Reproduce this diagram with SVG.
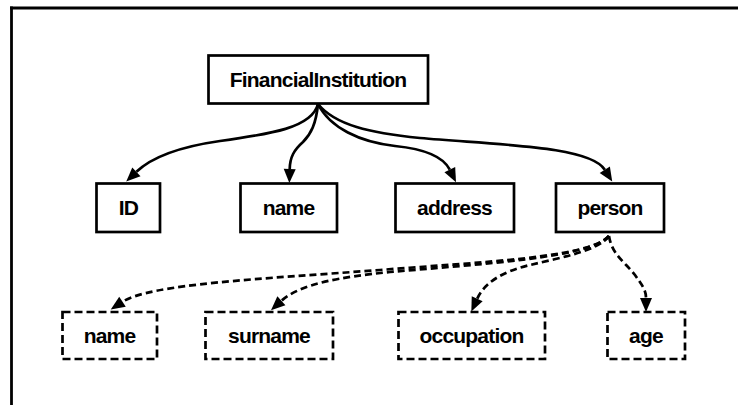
<svg xmlns="http://www.w3.org/2000/svg" width="738" height="405" viewBox="0 0 738 405">
  <style>
    .node rect { fill: #ffffff; stroke: #000000; stroke-width: 2.7; }
    .node.opt rect { stroke-dasharray: 8 4; }
    .node text { font-family: "Liberation Sans", Arial, sans-serif; font-weight: bold; font-size: 21px; letter-spacing: -0.8px; text-anchor: middle; fill: #000000; }
    .edge { fill: none; stroke: #000000; stroke-width: 2.7; marker-end: url(#head); }
    .edge.opt { stroke-dasharray: 7 4; }
    .frame { stroke: #000000; stroke-width: 2.8; fill: none; }
  </style>
  <defs>
    <marker id="head" markerUnits="userSpaceOnUse" markerWidth="14" markerHeight="12" refX="0" refY="6" orient="auto" overflow="visible">
      <path d="M0,0 L14,6 L0,12 z" fill="#000000"/>
    </marker>
  </defs>

  <rect width="738" height="405" fill="#ffffff"/>
  <!-- frame: top and left rules -->
  <line class="frame" x1="11.5" y1="6.6" x2="11.5" y2="405"/>
  <line class="frame" x1="10" y1="8" x2="738" y2="8"/>

  <g id="connectors">
    <!-- solid: FinancialInstitution to attributes -->
    <path class="edge" d="M318,104 C312,128 270,134 220,141 C178,147 152,157 136.4,171.8"/>
    <path class="edge" d="M318,104 C316,124 311,134 303,142 C294,150 290,157 289.7,169"/>
    <path class="edge" d="M318,104 C330,128 360,142 395,146 C425,149 443,156 449.8,169.7"/>
    <path class="edge" d="M318,104 C335,125 370,133 420,138 C500,145 590,146 604.8,169.7"/>
    <!-- dashed: person to its attributes -->
    <path class="edge opt" d="M609,236 C590,258 480,262 380,270 C260,279 150,284 122.5,301.8"/>
    <path class="edge opt" d="M609,236 C590,258 480,264 390,272 C340,277 300,284 281.4,300.8"/>
    <path class="edge opt" d="M609,236 C600,250 560,258 530,265 C500,272 484,284 477.2,298.7"/>
    <path class="edge opt" d="M609,236 C612,255 625,262 635,275 C642,285 646,290 646,298"/>
  </g>

  <g id="FinancialInstitution" class="node">
    <rect x="208.5" y="55.5" width="219.5" height="48"/>
    <text x="318" y="87">FinancialInstitution</text>
  </g>
  <g id="ID" class="node">
    <rect x="96.5" y="183.5" width="63.5" height="48.5"/>
    <text x="128.5" y="215">ID</text>
  </g>
  <g id="name" class="node">
    <rect x="240.5" y="183.5" width="96.5" height="48.5"/>
    <text x="288.5" y="215">name</text>
  </g>
  <g id="address" class="node">
    <rect x="395.5" y="183.5" width="118.5" height="48.5"/>
    <text x="454.5" y="215">address</text>
  </g>
  <g id="person" class="node">
    <rect x="556" y="183.5" width="108" height="48.5"/>
    <text x="610" y="215">person</text>
  </g>
  <g id="person_name" class="node opt">
    <rect x="62.5" y="312" width="94.5" height="47"/>
    <text x="109.5" y="343">name</text>
  </g>
  <g id="surname" class="node opt">
    <rect x="205.5" y="312" width="127.5" height="47"/>
    <text x="269" y="343">surname</text>
  </g>
  <g id="occupation" class="node opt">
    <rect x="398.5" y="312" width="146.5" height="47"/>
    <text x="471.5" y="343">occupation</text>
  </g>
  <g id="age" class="node opt">
    <rect x="607.5" y="312" width="77.5" height="47"/>
    <text x="646" y="343">age</text>
  </g>
</svg>
